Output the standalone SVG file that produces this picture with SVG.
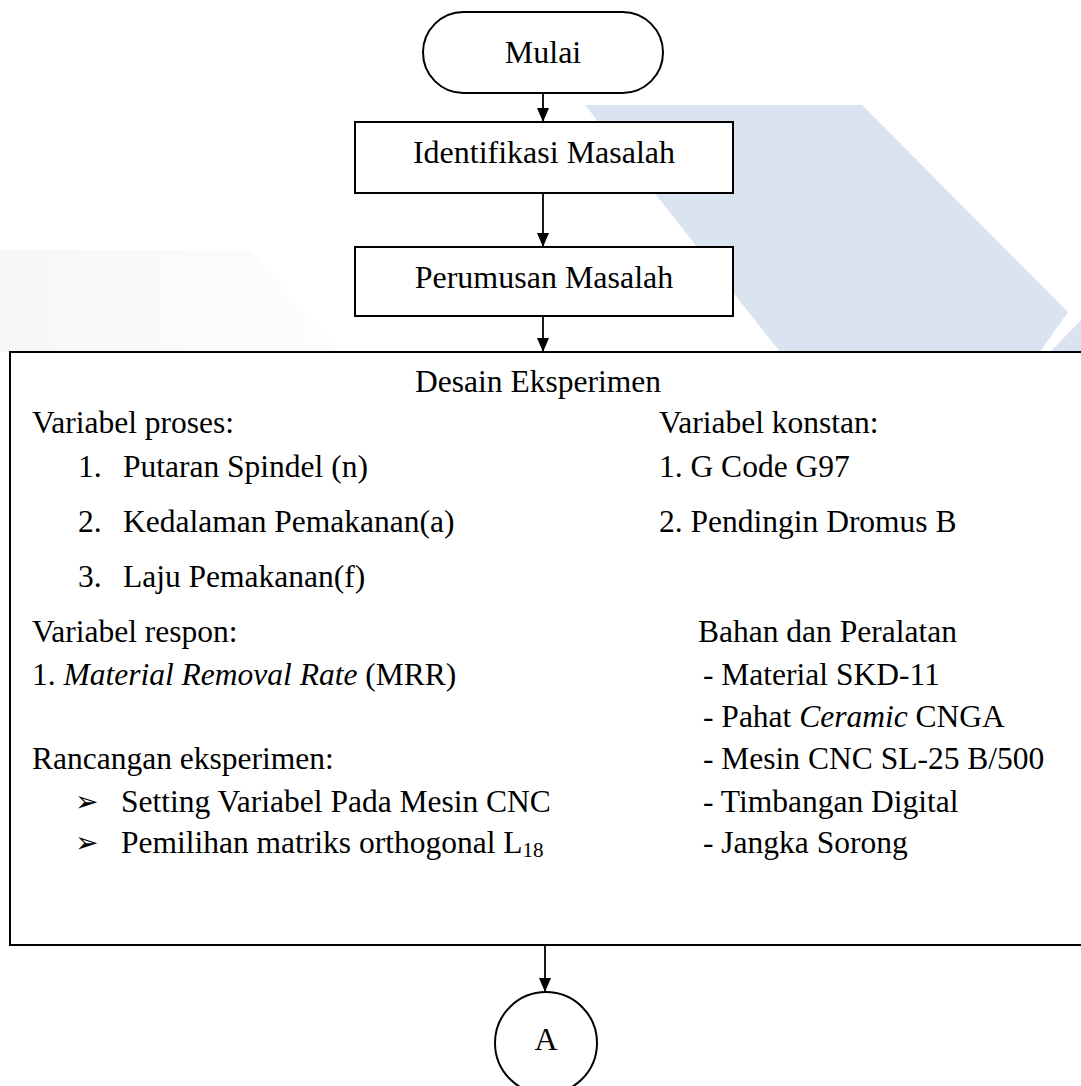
<svg xmlns="http://www.w3.org/2000/svg" width="1081" height="1086" viewBox="0 0 1081 1086">
<style>
  .t { font-family: "Liberation Serif", "Times New Roman", serif; font-size: 31.5px; fill: #000; }
  .lb { font-size: 32px; }
  .c { text-anchor: middle; }
  .box { fill: #fff; stroke: #000; stroke-width: 2; }
  .conn line { stroke: #000; stroke-width: 1.8; fill: none; }
  .it { font-style: italic; }
  .bul { font-family: "DejaVu Sans", sans-serif; font-size: 28px; }
</style>
<defs>
  <marker id="ah" markerWidth="14" markerHeight="12" refX="14" refY="6" orient="auto" markerUnits="userSpaceOnUse" viewBox="0 0 14 12">
    <path d="M0,0 L14,6 L0,12 Z" fill="#000"/>
  </marker>
  <linearGradient id="gfade" x1="0" y1="0" x2="1" y2="0">
    <stop offset="0" stop-color="#f2f3f6" stop-opacity="0.7"/>
    <stop offset="1" stop-color="#f6f7f8" stop-opacity="0.25"/>
  </linearGradient>
</defs>
<rect width="1081" height="1086" fill="#fff"/>
<g id="watermark">
  <polygon points="0,250 250,250 340,352 0,352" fill="url(#gfade)"/>
  <polygon points="585,105 862,105 1068,312 1040,352 780,352" fill="#dae4f1"/>
  <polygon points="1081,320 1081,352 1050,352" fill="#dae4f1"/>
</g>
<g id="connectors" class="conn">
  <line x1="543" y1="93" x2="543" y2="122" marker-end="url(#ah)"/>
  <line x1="543" y1="193" x2="543" y2="247" marker-end="url(#ah)"/>
  <line x1="543" y1="316" x2="543" y2="352" marker-end="url(#ah)"/>
  <line x1="545" y1="945" x2="545" y2="992" marker-end="url(#ah)"/>
</g>
<g id="mulai">
  <rect class="box" x="423" y="12" width="240" height="81" rx="40.5" ry="40.5"/>
  <text class="t lb c" x="543" y="63">Mulai</text>
</g>
<g id="identifikasi">
  <rect class="box" x="355" y="122" width="378" height="71"/>
  <text class="t lb c" x="544" y="163">Identifikasi Masalah</text>
</g>
<g id="perumusan">
  <rect class="box" x="355" y="247" width="378" height="69"/>
  <text class="t lb c" x="544" y="288">Perumusan Masalah</text>
</g>
<g id="desain">
  <path d="M1085,352 H10 V945 H1085" fill="#fff" stroke="#000" stroke-width="2"/>
  <text class="t c" x="538" y="392">Desain Eksperimen</text>
  <text class="t" x="32" y="433">Variabel proses:</text>
  <text class="t" x="78" y="477">1.</text>
  <text class="t" x="123" y="477">Putaran Spindel (n)</text>
  <text class="t" x="78" y="532">2.</text>
  <text class="t" x="123" y="532">Kedalaman Pemakanan(a)</text>
  <text class="t" x="78" y="587">3.</text>
  <text class="t" x="123" y="587">Laju Pemakanan(f)</text>
  <text class="t" x="32" y="642">Variabel respon:</text>
  <text class="t" x="32" y="685">1. <tspan class="it">Material Removal Rate</tspan> (MRR)</text>
  <text class="t" x="32" y="769">Rancangan eksperimen:</text>
  <text class="bul" x="75" y="811">➢</text>
  <text class="t" x="121" y="812">Setting Variabel Pada Mesin CNC</text>
  <text class="bul" x="75" y="852">➢</text>
  <text class="t" x="121" y="853">Pemilihan matriks orthogonal L<tspan font-size="21" dy="4">18</tspan></text>
  <text class="t" x="659" y="433">Variabel konstan:</text>
  <text class="t" x="659" y="477">1. G Code G97</text>
  <text class="t" x="659" y="532">2. Pendingin Dromus B</text>
  <text class="t" x="698" y="642">Bahan dan Peralatan</text>
  <text class="t" x="703" y="685">- Material SKD-11</text>
  <text class="t" x="703" y="727">- Pahat <tspan class="it">Ceramic</tspan> CNGA</text>
  <text class="t" x="703" y="769">- Mesin CNC SL-25 B/500</text>
  <text class="t" x="703" y="812">- Timbangan Digital</text>
  <text class="t" x="703" y="853">- Jangka Sorong</text>
</g>
<g id="connector-a">
  <circle cx="546" cy="1043" r="51" fill="#fff" stroke="#000" stroke-width="2"/>
  <text class="t lb c" x="546" y="1050">A</text>
</g>
</svg>
